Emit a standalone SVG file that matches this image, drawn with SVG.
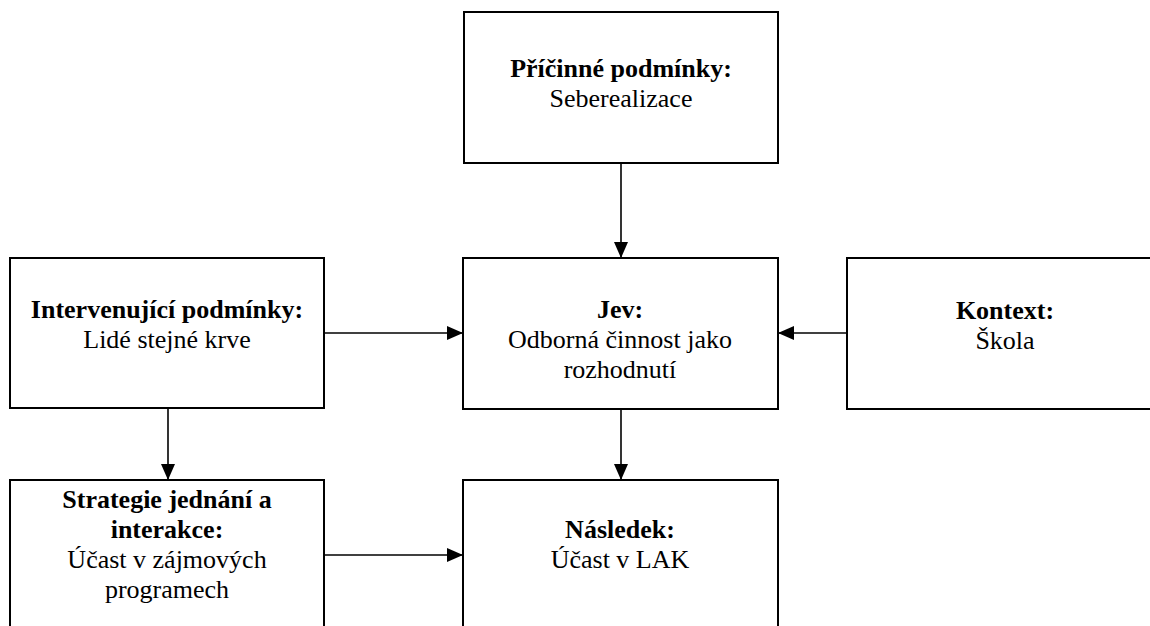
<svg xmlns="http://www.w3.org/2000/svg" width="1150" height="626" viewBox="0 0 1150 626">
<defs>
<style>
.box{fill:#fff;stroke:#000;stroke-width:2}
.t{font-family:"Liberation Serif","Times New Roman",serif;font-size:26px;text-anchor:middle;fill:#000}
.b{font-weight:bold}
.c{stroke:#000;stroke-width:1.6;fill:none;marker-end:url(#ah)}
</style>
<marker id="ah" markerUnits="userSpaceOnUse" markerWidth="16" markerHeight="14" refX="16" refY="7" orient="auto">
<path d="M0,0 L16,7 L0,14 z" fill="#000"/>
</marker>
</defs>
<rect width="1150" height="626" fill="#fff"/>
<g id="connectors">
<line class="c" x1="621" y1="163" x2="621" y2="258"/>
<line class="c" x1="324" y1="333" x2="463" y2="333"/>
<line class="c" x1="847" y1="333" x2="778" y2="333"/>
<line class="c" x1="168" y1="408" x2="168" y2="480"/>
<line class="c" x1="621" y1="409" x2="621" y2="480"/>
<line class="c" x1="324" y1="555" x2="463" y2="555"/>
</g>
<g id="pricinne">
<rect class="box" x="464" y="12" width="314" height="151"/>
<text class="t b" x="621" y="77">Příčinné podmínky:</text>
<text class="t" x="621" y="107">Seberealizace</text>
</g>
<g id="intervenujici">
<rect class="box" x="10" y="258" width="314" height="150"/>
<text class="t b" x="167" y="318">Intervenující podmínky:</text>
<text class="t" x="167" y="348">Lidé stejné krve</text>
</g>
<g id="jev">
<rect class="box" x="463" y="258" width="315" height="151"/>
<text class="t b" x="620" y="318">Jev:</text>
<text class="t" x="620" y="348">Odborná činnost jako</text>
<text class="t" x="620" y="378">rozhodnutí</text>
</g>
<g id="kontext">
<rect class="box" x="847" y="258" width="316" height="151"/>
<text class="t b" x="1005" y="319">Kontext:</text>
<text class="t" x="1005" y="349">Škola</text>
</g>
<g id="strategie">
<rect class="box" x="10" y="480" width="314" height="160"/>
<text class="t b" x="167" y="508">Strategie jednání a</text>
<text class="t b" x="167" y="538">interakce:</text>
<text class="t" x="167" y="568">Účast v zájmových</text>
<text class="t" x="167" y="598">programech</text>
</g>
<g id="nasledek">
<rect class="box" x="463" y="480" width="315" height="160"/>
<text class="t b" x="620" y="538">Následek:</text>
<text class="t" x="620" y="568">Účast v LAK</text>
</g>
</svg>
